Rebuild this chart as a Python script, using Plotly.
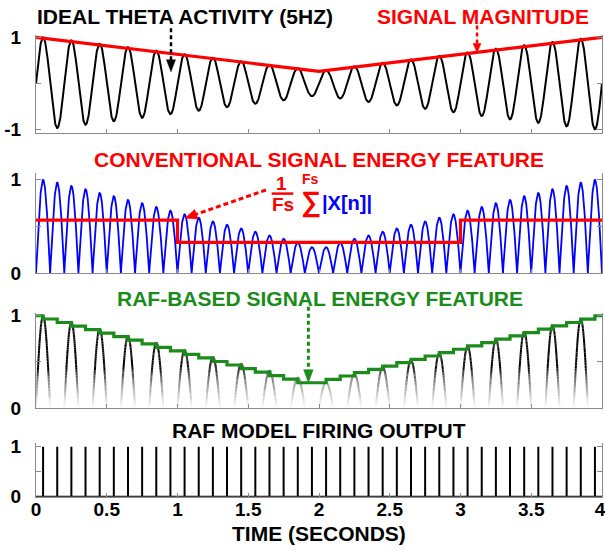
import numpy as np
import plotly.graph_objects as go

# ---------------- data ----------------
THETA_HZ = 5.0
X_RANGE = [0.0, 4.0]
# peak magnitude of each half cycle of the theta wave (40 half cycles in 4 s)
HALF_CYCLE_AMPS = [1.00, 0.97, 0.935, 0.90, 0.86, 0.825, 0.785, 0.75, 0.71, 0.67,
                   0.63, 0.595, 0.555, 0.52, 0.48, 0.445, 0.405, 0.37, 0.33, 0.28,
                   0.28, 0.33, 0.37, 0.405, 0.445, 0.48, 0.52, 0.555, 0.595, 0.63,
                   0.67, 0.71, 0.75, 0.785, 0.825, 0.86, 0.90, 0.935, 0.97, 1.00]
MAG_T = [0.0, 2.0, 4.0]
MAG_V = [1.0, 0.26, 1.0]
CONV_T = [0.0, 1.0, 2.0, 3.0, 4.0]
CONV_V = [0.57, 0.33, 0.33, 0.57, 0.57]
SPIKE_T = [0.05, 0.15, 0.25, 0.35, 0.45, 0.55, 0.65, 0.75, 0.85, 0.95,
           1.05, 1.15, 1.25, 1.35, 1.45, 1.55, 1.65, 1.75, 1.85, 1.95,
           2.05, 2.15, 2.25, 2.35, 2.45, 2.55, 2.65, 2.75, 2.85, 2.95,
           3.05, 3.15, 3.25, 3.35, 3.45, 3.55, 3.65, 3.75, 3.85, 3.95]
SPIKE_H = [1.0] * 40
RAF_LEVELS = [1.0,
              0.965, 0.927, 0.888, 0.850, 0.811, 0.773, 0.735, 0.696, 0.658, 0.619,
              0.581, 0.543, 0.504, 0.466, 0.427, 0.389, 0.350, 0.312, 0.274,
              0.274,
              0.310, 0.347, 0.383, 0.419, 0.455, 0.492, 0.528, 0.564, 0.601, 0.637,
              0.673, 0.709, 0.746, 0.782, 0.818, 0.855, 0.891, 0.927, 0.964, 1.0]
X_TICKS = [0, 0.5, 1, 1.5, 2, 2.5, 3, 3.5, 4]
X_TICK_LABELS = ["0", "0.5", "1", "1.5", "2", "2.5", "3", "3.5", "4\u2009"]
Y1_TICKS, Y1_LABELS = [-1, 0, 1], ["-1", "", "1"]
Y_TICKS, Y_LABELS = [0, 0.5, 1], ["0", "", "1"]

TITLES = ["IDEAL THETA ACTIVITY (5HZ)", "SIGNAL MAGNITUDE",
          "CONVENTIONAL SIGNAL ENERGY FEATURE", "RAF-BASED SIGNAL ENERGY FEATURE",
          "RAF MODEL FIRING OUTPUT", "TIME (SECONDS)"]

# ---------------- layout geometry (pixels) ----------------
W, H = 605, 551
L, R = 36.0, 602.0
PW = R - L
# panel: (top px, bottom px, y0, y1)
PANELS = {1: (35.0, 133.3, -1.087, 1.05),
          2: (173.3, 273.3, 0.0, 1.07),
          3: (313.0, 408.0, 0.0, 1.03),
          4: (442.7, 496.7, 0.0, 1.08)}

RED = "#ff0000"
BLUE = "#0000ff"
GREEN = "#1b8b1b"
AX = "#8a8a8a"
FONT = "Liberation Sans, Arial, sans-serif"


def xp(px):
    return (px - L) / PW


def yp(py):
    return 1 - py / H


def t2px(t):
    return L + (t - X_RANGE[0]) / (X_RANGE[1] - X_RANGE[0]) * PW


def v2py(panel, v):
    top, bot, r0, r1 = PANELS[panel]
    return bot - (v - r0) / (r1 - r0) * (bot - top)


fig = go.Figure()

# ---------------- build waveform from the half-cycle amplitudes ----------------
hc = 0.5 / THETA_HZ
N = 60
wave_t, wave_v = [], []
for k, amp in enumerate(HALF_CYCLE_AMPS):
    tt = k * hc + np.linspace(0, hc, N)
    sgn = 1 if k % 2 == 0 else -1
    vv = sgn * amp * np.sin(np.pi * (tt - k * hc) / hc)
    if k > 0:
        tt, vv = tt[1:], vv[1:]
    wave_t.extend(tt.tolist())
    wave_v.extend(vv.tolist())
wave_t = np.array(wave_t)
wave_v = np.array(wave_v)

# panel 1
fig.add_trace(go.Scatter(x=wave_t, y=wave_v, mode="lines",
                         line=dict(color="black", width=2), xaxis="x", yaxis="y",
                         hoverinfo="skip", showlegend=False))
fig.add_trace(go.Scatter(x=MAG_T, y=MAG_V, mode="lines",
                         line=dict(color=RED, width=3.2), xaxis="x", yaxis="y",
                         showlegend=False))

# panel 2
fig.add_trace(go.Scatter(x=wave_t, y=np.abs(wave_v), mode="lines",
                         line=dict(color=BLUE, width=1.8), xaxis="x2", yaxis="y2",
                         hoverinfo="skip", showlegend=False))
fig.add_trace(go.Scatter(x=CONV_T, y=CONV_V, mode="lines", line_shape="hv",
                         line=dict(color=RED, width=3.2), xaxis="x2", yaxis="y2",
                         showlegend=False))

# panel 3: positive half-waves with a fade towards zero
NB = 14
YB = 0.42
band_x = {b: [] for b in range(NB + 1)}
band_y = {b: [] for b in range(NB + 1)}
for k, amp in enumerate(HALF_CYCLE_AMPS):
    if k % 2:
        continue
    tt = k * hc + np.linspace(0, hc, 90)
    vv = amp * np.sin(np.pi * (tt - k * hc) / hc)
    for j in range(len(tt) - 1):
        mid = 0.5 * (vv[j] + vv[j + 1])
        b = min(int(mid / YB * NB), NB)
        band_x[b] += [tt[j], tt[j + 1], None]
        band_y[b] += [vv[j], vv[j + 1], None]
for b in range(NB + 1):
    if not band_x[b]:
        continue
    ymid = min((b + 0.5) / NB, 1.0) * YB if b < NB else YB
    frac = max(0.0, 1 - ymid / YB)
    g = int(round(255 * frac ** 0.6)) if b < NB else 0
    fig.add_trace(go.Scatter(x=band_x[b], y=band_y[b], mode="lines",
                             line=dict(color=f"rgb({g},{g},{g})", width=2),
                             xaxis="x3", yaxis="y3", hoverinfo="skip",
                             showlegend=False))
fig.add_trace(go.Scatter(x=[X_RANGE[0]] + SPIKE_T + [X_RANGE[1]],
                         y=RAF_LEVELS + [RAF_LEVELS[-1]], mode="lines",
                         line_shape="hv", line=dict(color=GREEN, width=3.2),
                         xaxis="x3", yaxis="y3", showlegend=False))

# panel 4: spike train
sx, sy = [X_RANGE[0]], [0.0]
for s, h in zip(SPIKE_T, SPIKE_H):
    sx += [s, s, s]
    sy += [0.0, h, 0.0]
sx.append(X_RANGE[1])
sy.append(0.0)
fig.add_trace(go.Scatter(x=sx, y=sy, mode="lines",
                         line=dict(color="black", width=2),
                         xaxis="x4", yaxis="y4", showlegend=False))
# empty trace that carries the tick-label axis of the bottom panel
fig.add_trace(go.Scatter(x=[], y=[], mode="lines", xaxis="x5", yaxis="y4",
                         showlegend=False, hoverinfo="skip"))

# ---------------- axes ----------------
layout = dict(width=W, height=H, margin=dict(l=int(L), r=int(W - R), t=0, b=0),
              paper_bgcolor="white", plot_bgcolor="white", showlegend=False,
              font=dict(family=FONT, color="black"))
for p in range(1, 5):
    top, bot, r0, r1 = PANELS[p]
    sfx = "" if p == 1 else str(p)
    layout["xaxis" + sfx] = dict(
        domain=[0, 1], range=X_RANGE, anchor="y" + sfx, tickvals=X_TICKS,
        ticktext=X_TICK_LABELS, showticklabels=False, ticks="inside",
        ticklen=4, tickcolor=AX, showline=True, linecolor=AX, linewidth=1,
        mirror=False, showgrid=False, zeroline=False, automargin=False)
    layout["yaxis" + sfx] = dict(
        domain=[1 - bot / H, 1 - top / H], range=[r0, r1], anchor="x" + sfx,
        tickvals=Y1_TICKS if p == 1 else Y_TICKS,
        ticktext=Y1_LABELS if p == 1 else Y_LABELS,
        ticks="inside", ticklen=5, tickcolor=AX, showline=True, linecolor=AX,
        linewidth=1, mirror="ticks", showgrid=False, zeroline=False,
        automargin=False, tickfont=dict(size=19, family=FONT, weight="bold"),
        ticklabelstandoff=10)
# tick labels of the time axis (same scale as x4)
layout["xaxis5"] = dict(
    domain=[0, 1], range=X_RANGE, overlaying="x4", anchor="free",
    position=yp(PANELS[4][1] - 0.5), tickvals=X_TICKS, ticktext=X_TICK_LABELS,
    showticklabels=True, ticks="", showline=False, showgrid=False,
    zeroline=False, automargin=False, ticklabeloverflow="allow",
    tickfont=dict(size=19, family=FONT, weight="bold"), ticklabelstandoff=0)
fig.update_layout(**layout)

# ---------------- texts ----------------
ann = []


def text(s, cx, cy, color="black", size=21, xanchor="center"):
    ann.append(dict(text=s, x=xp(cx), y=yp(cy), xref="paper", yref="paper",
                    xanchor=xanchor, yanchor="middle", showarrow=False,
                    font=dict(family=FONT, size=size, color=color, weight="bold")))


text(TITLES[0], 185.2, 16.3)
text(TITLES[1], 483.0, 16.3, RED)
text(TITLES[2], 319.0, 160.0, RED)
text(TITLES[3], 320.0, 298.0, GREEN)
text(TITLES[4], 319.0, 430.0)
text(TITLES[5], 319.0, 533.0)
# formula 1/Fs sum |X[n]|
text("1", 281.0, 184.0, RED, 19)
text("Fs", 283.0, 204.5, RED, 19)
text("Fs", 310.0, 178.5, RED, 14)
text("\u2211", 310.5, 202.0, RED, 28)
text("|X[n]|", 346.7, 203.0, BLUE, 20)

shapes = [dict(type="line", xref="paper", yref="paper", x0=xp(271.7), x1=xp(293.3),
               y0=yp(193.6), y1=yp(193.6), line=dict(color=RED, width=2.5))]


def dashed_arrow(x0, y0, x1, y1, color, width, hl, hw, dash="4px,3px"):
    dx, dy = x1 - x0, y1 - y0
    n = (dx * dx + dy * dy) ** 0.5
    ux, uy = dx / n, dy / n
    bx, by = x1 - ux * hl, y1 - uy * hl
    shapes.append(dict(type="line", xref="paper", yref="paper",
                       x0=xp(x0), y0=yp(y0), x1=xp(bx + ux), y1=yp(by + uy),
                       line=dict(color=color, width=width, dash=dash)))
    px_, py_ = -uy, ux
    pts = [(x1, y1), (bx + px_ * hw / 2, by + py_ * hw / 2),
           (bx - px_ * hw / 2, by - py_ * hw / 2)]
    path = "M " + " L ".join(f"{xp(a):.5f},{yp(b):.5f}" for a, b in pts) + " Z"
    shapes.append(dict(type="path", xref="paper", yref="paper", path=path,
                       fillcolor=color, line=dict(color=color, width=0.5)))


dashed_arrow(t2px(0.954), 28.3, t2px(0.954), v2py(1, 0.25), "black", 2.5, 12, 9)
dashed_arrow(t2px(3.117), 25.5, t2px(3.117), v2py(1, 0.67), RED, 2.5, 9, 8)
dashed_arrow(266.0, 190.0, t2px(1.053), v2py(2, 0.59), RED, 3, 12, 10, "5px,3px")
dashed_arrow(t2px(1.925), 306.7, t2px(1.925), v2py(3, 0.274), GREEN, 3, 13, 9.5)

fig.update_layout(annotations=ann, shapes=shapes)
fig.write_html("out.html")
